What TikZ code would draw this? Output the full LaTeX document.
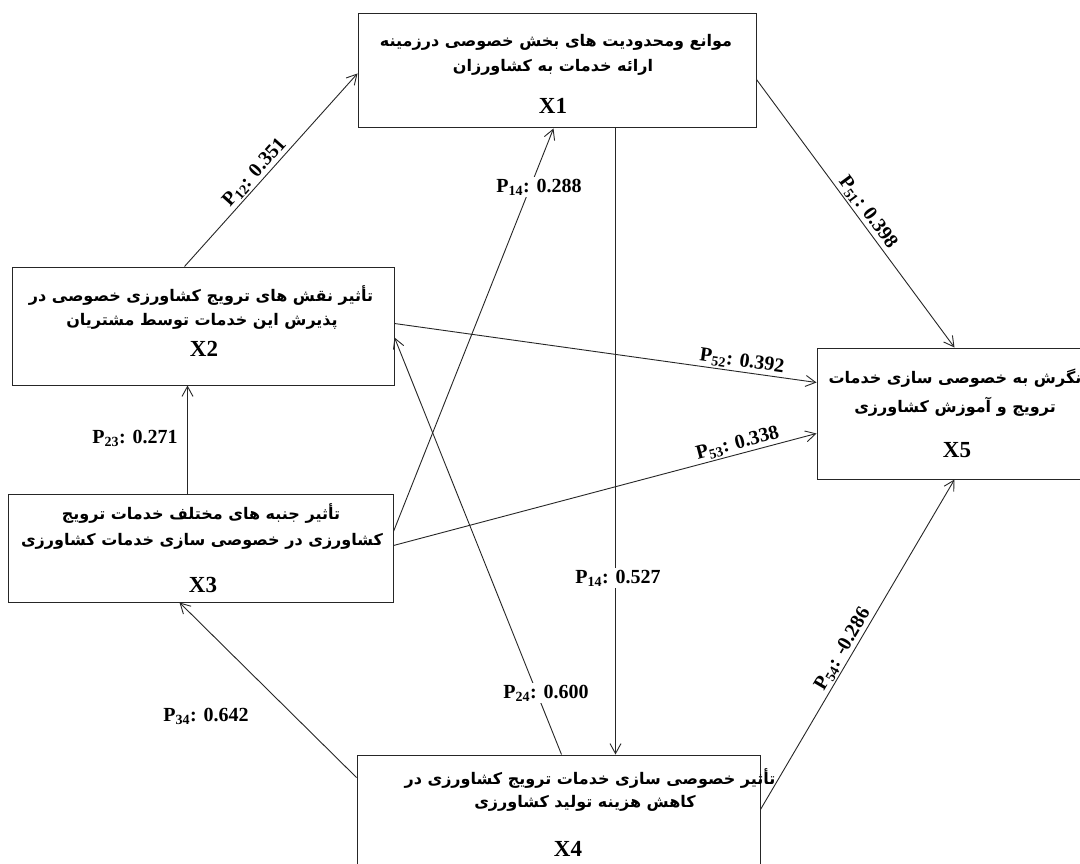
\documentclass[tikz,border=0pt]{standalone}
\usepackage{fontspec}
\setmainfont{Liberation Serif}
\newfontfamily\fa[Script=Arabic]{DejaVu Sans}
\TeXXeTstate=1
\usetikzlibrary{arrows.meta,calc}
\begin{document}
\begin{tikzpicture}[x=1pt,y=-1pt,
 box/.style={draw=black!85, line width=1pt, inner sep=0pt, anchor=center},
 fatext/.style={font=\fa\bfseries\fontsize{16}{19}\selectfont, inner sep=0pt, anchor=center},
 xlab/.style={font=\fontsize{23}{25}\selectfont\bfseries, inner sep=0pt},
 plab/.style={font=\fontsize{20}{22}\selectfont\bfseries, inner sep=1.5pt},
 wlab/.style={plab, fill=white, inner sep=2pt},
 conn/.style={draw=black!85, line width=0.9pt, -{Straight Barb[length=10pt,width=11pt]}}
]
\useasboundingbox (0,0) rectangle (1080,864);
\clip (0,0) rectangle (1080,864);
\fill[white] (0,0) rectangle (1080,864);

% boxes
\node[box, minimum width=398pt, minimum height=114pt] (X1) at (557,71) {};
\node[box, minimum width=382pt, minimum height=118pt] (X2) at (203,326) {};
\node[box, minimum width=385pt, minimum height=108pt] (X3) at (200.5,548) {};
\node[box, minimum width=403pt, minimum height=125pt] (X4) at (558.5,817.5) {};
\node[box, minimum width=278pt, minimum height=131pt] (X5) at (956,413.5) {};

% texts
\node[fatext] (t1a) at (556,42) {\beginR موانع ومحدودیت های بخش خصوصی درزمینه\endR};
\node[fatext] (t1b) at (553,67) {\beginR ارائه خدمات به کشاورزان\endR};
\node[xlab] (l1) at (553,106) {X1};

\node[fatext] (t2a) at (201,296) {\beginR تأثیر نقش های ترویج کشاورزی خصوصی در\endR};
\node[fatext] (t2b) at (202,321) {\beginR پذیرش این خدمات توسط مشتریان\endR};
\node[xlab] (l2) at (204,349) {X2};

\node[fatext] (t3a) at (201,514) {\beginR تأثیر جنبه های مختلف خدمات ترویج\endR};
\node[fatext] (t3b) at (202,541) {\beginR کشاورزی در خصوصی سازی خدمات کشاورزی\endR};
\node[xlab] (l3) at (203,585) {X3};

\node[fatext] (t4a) at (590,779) {\beginR تأثیر خصوصی سازی خدمات ترویج کشاورزی در\endR};
\node[fatext] (t4b) at (585,803) {\beginR کاهش هزینه تولید کشاورزی\endR};
\node[xlab] (l4) at (568,849) {X4};

\node[fatext] (t5a) at (955,378) {\beginR نگرش به خصوصی سازی خدمات\endR};
\node[fatext] (t5b) at (955,407) {\beginR ترویج و آموزش کشاورزی\endR};
\node[xlab] (l5) at (957,450) {X5};

% connectors
\draw[conn] ([xshift=173pt]X2.north west) -- ([yshift=-60pt]X1.north west)
  node[plab, pos=0.45, above, sloped] (p12) {P\textsubscript{12}: 0.351};
\draw[conn] ([yshift=-38pt]X3.north east) -- ([xshift=196pt]X1.south west);
\node[wlab] (p14a) at (539,187) {P\textsubscript{14}: 0.288};
\draw[conn] ([xshift=258pt]X1.south west) -- ([xshift=259pt]X4.north west);
\node[wlab] (p14b) at (618,578) {P\textsubscript{14}: 0.527};
\draw[conn] ([yshift=-66pt]X1.north east) -- ([xshift=138pt]X5.north west)
  node[plab, pos=0.52, above, sloped] (p51) {P\textsubscript{51}: 0.398};
\draw[conn] ([yshift=-57pt]X2.north east) -- ([yshift=-35pt]X5.north west)
  node[plab, pos=0.82, above, sloped] (p52) {P\textsubscript{52}: 0.392};
\draw[conn] ([yshift=-52pt]X3.north east) -- ([yshift=-86pt]X5.north west)
  node[plab, pos=0.82, above, sloped] (p53) {P\textsubscript{53}: 0.338};
\draw[conn] ([xshift=180pt]X3.north west) -- ([xshift=176pt]X2.south west);
\node[plab] (p23) at (135,438) {P\textsubscript{23}: 0.271};
\draw[conn] ([xshift=205pt]X4.north west) -- ([yshift=-71pt]X2.north east);
\node[wlab] (p24) at (546,693) {P\textsubscript{24}: 0.600};
\draw[conn] ([yshift=-23pt]X4.north west) -- ([xshift=172pt]X3.south west);
\node[plab] (p34) at (206,716) {P\textsubscript{34}: 0.642};
\draw[conn] ([yshift=-55pt]X4.north east) -- ([xshift=138pt]X5.south west)
  node[plab, pos=0.47, above, sloped] (p54) {P\textsubscript{54}: -0.286};
\end{tikzpicture}
\end{document}
